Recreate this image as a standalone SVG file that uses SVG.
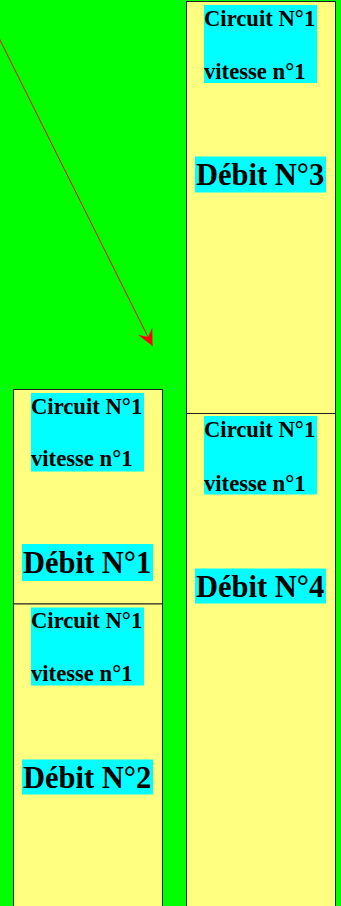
<svg xmlns="http://www.w3.org/2000/svg" width="341" height="906" viewBox="0 0 341 906">
  <style>
    .box { fill: #ffff80; stroke: #222; stroke-width: 1; }
    .hl { fill: #00ffff; }
    .small { font-family: "Liberation Serif", "Times New Roman", serif; font-weight: bold; font-size: 22.67px; fill: #000; }
    .big { font-family: "Liberation Serif", "Times New Roman", serif; font-weight: bold; font-size: 30.5px; fill: #000; }
    .conn { stroke: #ff0000; stroke-width: 1; fill: none; }
  </style>
  <defs>
    <marker id="arrow" markerUnits="userSpaceOnUse" markerWidth="20" markerHeight="20" viewBox="-18 -10 20 20" refX="0" refY="0" orient="auto">
      <path d="M0,0 L-16.5,-8 L-10,0 L-16.5,8 Z" fill="#ff0000"/>
    </marker>
  </defs>
  <rect x="0" y="0" width="341" height="906" fill="#00ff00"/>

  <g id="debit3">
    <rect class="box" x="186.5" y="1.5" width="149" height="412"/>
    <rect class="hl" x="204" y="5" width="113" height="78"/>
    <text class="small" x="204" y="26">Circuit N°1</text>
    <text class="small" x="204" y="79">vitesse n°1</text>
    <rect class="hl" x="195" y="156.5" width="131" height="36"/>
    <text class="big" x="196" y="185">Débit N°3</text>
  </g>

  <g id="debit4">
    <rect class="box" x="186.5" y="413.5" width="149" height="500"/>
    <rect class="hl" x="204" y="416" width="113" height="78.5"/>
    <text class="small" x="204" y="437">Circuit N°1</text>
    <text class="small" x="204" y="490.5">vitesse n°1</text>
    <rect class="hl" x="195" y="568.5" width="131" height="35"/>
    <text class="big" x="196" y="596.5">Débit N°4</text>
  </g>

  <g id="debit1">
    <rect class="box" x="13.5" y="389.5" width="149" height="214.5"/>
    <rect class="hl" x="31" y="393" width="113" height="78.5"/>
    <text class="small" x="31" y="414">Circuit N°1</text>
    <text class="small" x="31" y="466">vitesse n°1</text>
    <rect class="hl" x="22" y="544" width="131" height="37"/>
    <text class="big" x="23" y="572.5">Débit N°1</text>
  </g>

  <g id="debit2">
    <rect class="box" x="13.5" y="604" width="149" height="310"/>
    <rect class="hl" x="31" y="607.5" width="113" height="78"/>
    <text class="small" x="31" y="627.5">Circuit N°1</text>
    <text class="small" x="31" y="680.5">vitesse n°1</text>
    <rect class="hl" x="22" y="759.5" width="131" height="35"/>
    <text class="big" x="23" y="787.5">Débit N°2</text>
  </g>

  <g id="connectors">
    <line class="conn" x1="-2" y1="36" x2="152.5" y2="346" marker-end="url(#arrow)"/>
  </g>
</svg>
